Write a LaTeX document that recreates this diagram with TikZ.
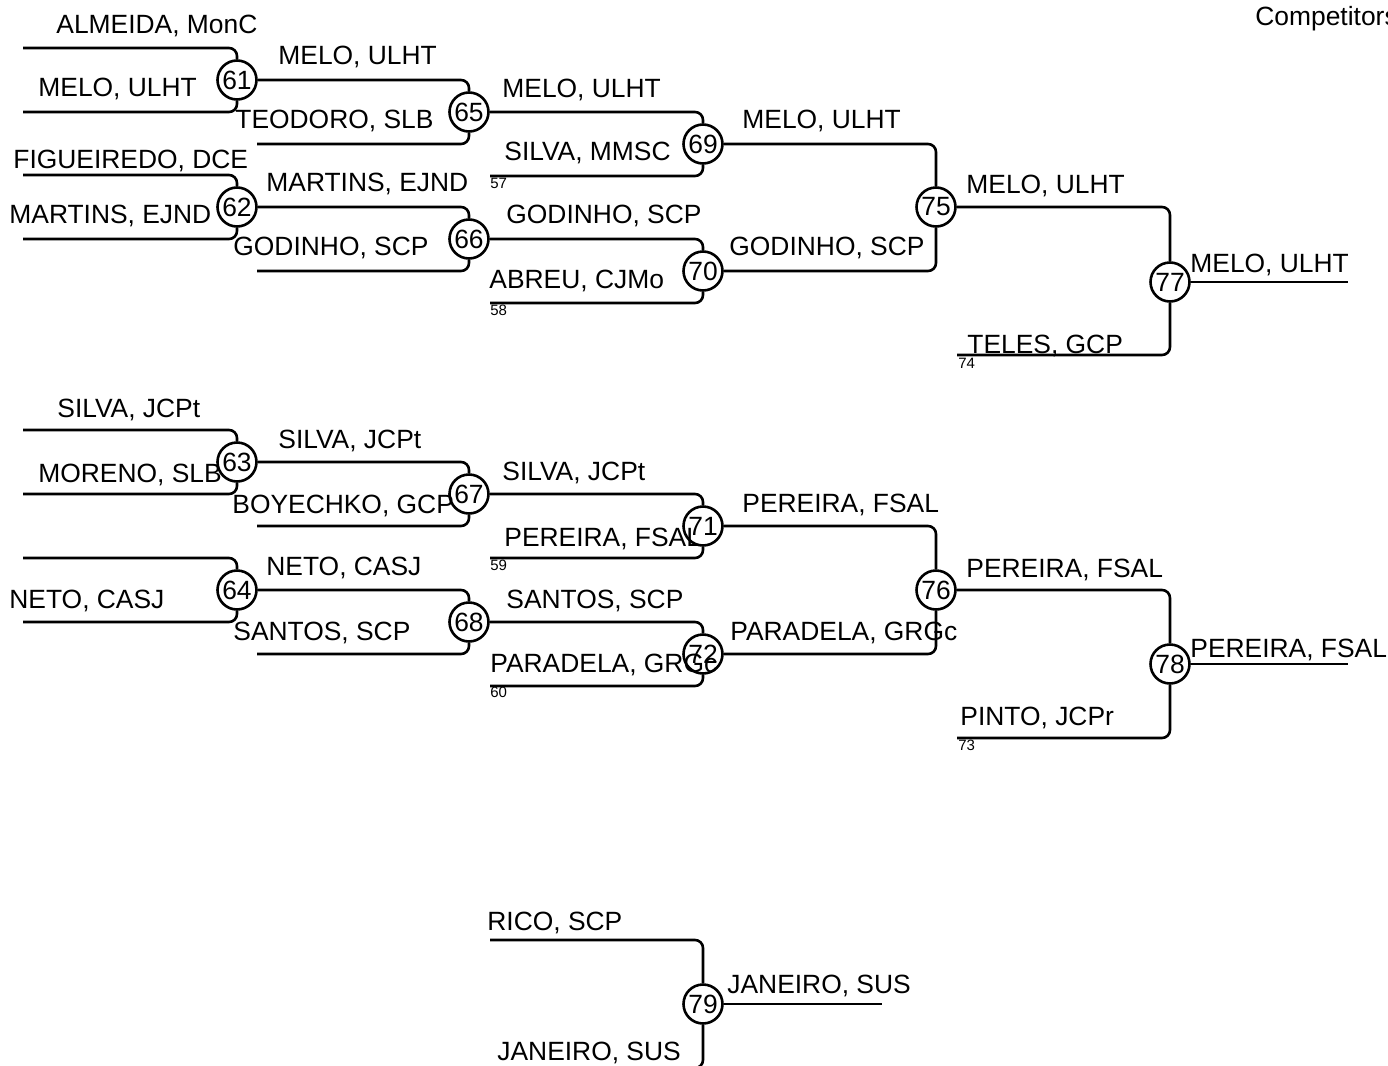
\documentclass[tikz,border=0pt]{standalone}
\usepackage{fontspec}
\setmainfont{Liberation Sans}
\begin{document}
\begin{tikzpicture}[x=0.5pt,y=-0.5pt,
  match/.style={draw,circle,line width=1.3pt,minimum size=19.5pt,inner sep=0pt,font=\fontsize{13.2}{14}\selectfont},
  lab/.style={anchor=base west,inner sep=0pt,font=\fontsize{13.2}{14}\selectfont},
  num/.style={anchor=base west,inner sep=0pt,font=\fontsize{7.5}{8}\selectfont},
  link/.style={line width=1.3pt,rounded corners=4pt}]
\useasboundingbox (0,0) rectangle (1388,1066);
\clip (0,0) rectangle (1388,1066);

% match circles
\node[match] (m61) at (237,80) {61};
\node[match] (m62) at (237,207) {62};
\node[match] (m63) at (237,462) {63};
\node[match] (m64) at (237,590) {64};
\node[match] (m65) at (469,112) {65};
\node[match] (m66) at (469,239) {66};
\node[match] (m67) at (469,494) {67};
\node[match] (m68) at (469,622) {68};
\node[match] (m69) at (703,144) {69};
\node[match] (m70) at (703,271) {70};
\node[match] (m71) at (703,526) {71};
\node[match] (m72) at (703,654) {72};
\node[match] (m75) at (936,207) {75};
\node[match] (m76) at (936,590) {76};
\node[match] (m77) at (1170,282) {77};
\node[match] (m78) at (1170,664) {78};
\node[match] (m79) at (703,1004) {79};

% leaf line starts
\coordinate (s61a) at (23,48);  \coordinate (s61b) at (23,112);
\coordinate (s62a) at (23,175); \coordinate (s62b) at (23,239);
\coordinate (s63a) at (23,430); \coordinate (s63b) at (23,494);
\coordinate (s64a) at (23,558); \coordinate (s64b) at (23,622);
\coordinate (s65b) at (257,144); \coordinate (s66b) at (257,271);
\coordinate (s67b) at (257,526); \coordinate (s68b) at (257,654);
\coordinate (s69b) at (490,176); \coordinate (s70b) at (490,303);
\coordinate (s71b) at (490,558); \coordinate (s72b) at (490,686);
\coordinate (s77b) at (957,355); \coordinate (s78b) at (957,738);
\coordinate (s79a) at (490,940); \coordinate (s79b) at (490,1068);
\coordinate (e77) at (1348,282); \coordinate (e78) at (1348,664);
\coordinate (e79) at (882,1004);

% round 1
\draw[link] (s61a) -| (m61.north); \draw[link] (s61b) -| (m61.south);
\draw[link] (s62a) -| (m62.north); \draw[link] (s62b) -| (m62.south);
\draw[link] (s63a) -| (m63.north); \draw[link] (s63b) -| (m63.south);
\draw[link] (s64a) -| (m64.north); \draw[link] (s64b) -| (m64.south);
% round 2
\draw[link] (m61.east) -| (m65.north); \draw[link] (s65b) -| (m65.south);
\draw[link] (m62.east) -| (m66.north); \draw[link] (s66b) -| (m66.south);
\draw[link] (m63.east) -| (m67.north); \draw[link] (s67b) -| (m67.south);
\draw[link] (m64.east) -| (m68.north); \draw[link] (s68b) -| (m68.south);
% round 3
\draw[link] (m65.east) -| (m69.north); \draw[link] (s69b) -| (m69.south);
\draw[link] (m66.east) -| (m70.north); \draw[link] (s70b) -| (m70.south);
\draw[link] (m67.east) -| (m71.north); \draw[link] (s71b) -| (m71.south);
\draw[link] (m68.east) -| (m72.north); \draw[link] (s72b) -| (m72.south);
% round 4
\draw[link] (m69.east) -| (m75.north); \draw[link] (m70.east) -| (m75.south);
\draw[link] (m71.east) -| (m76.north); \draw[link] (m72.east) -| (m76.south);
% round 5
\draw[link] (m75.east) -| (m77.north); \draw[link] (s77b) -| (m77.south);
\draw[link] (m76.east) -| (m78.north); \draw[link] (s78b) -| (m78.south);
\draw[link] (m77.east) -- (e77);
\draw[link] (m78.east) -- (e78);
% match 79
\draw[link] (s79a) -| (m79.north); \draw[link] (s79b) -| (m79.south);
\draw[link] (m79.east) -- (e79);

% labels top half
\node[lab] (t1) at (56,33) {ALMEIDA, MonC};
\node[lab] (t2) at (38,96) {MELO, ULHT};
\node[lab] (t3) at (13,168) {FIGUEIREDO, DCE};
\node[lab] (t4) at (9,223) {MARTINS, EJND};
\node[lab] (t5) at (278,64) {MELO, ULHT};
\node[lab] (t6) at (235,128) {TEODORO, SLB};
\node[lab] (t7) at (266,191) {MARTINS, EJND};
\node[lab] (t8) at (233,255) {GODINHO, SCP};
\node[lab] (t9) at (502,97) {MELO, ULHT};
\node[lab] (t10) at (504,160) {SILVA, MMSC};
\node[lab] (t11) at (506,223) {GODINHO, SCP};
\node[lab] (t12) at (489,288) {ABREU, CJMo};
\node[lab] (t13) at (742,128) {MELO, ULHT};
\node[lab] (t14) at (729,255) {GODINHO, SCP};
\node[lab] (t15) at (966,193) {MELO, ULHT};
\node[lab] (t16) at (967,353) {TELES, GCP};
\node[lab] (t17) at (1190,272) {MELO, ULHT};
% labels lower half
\node[lab] (u1) at (57,417) {SILVA, JCPt};
\node[lab] (u2) at (38,482) {MORENO, SLB};
\node[lab] (u3) at (9,608) {NETO, CASJ};
\node[lab] (u4) at (278,448) {SILVA, JCPt};
\node[lab] (u5) at (232,513) {BOYECHKO, GCP};
\node[lab] (u6) at (266,575) {NETO, CASJ};
\node[lab] (u7) at (233,640) {SANTOS, SCP};
\node[lab] (u8) at (502,480) {SILVA, JCPt};
\node[lab] (u9) at (504,546) {PEREIRA, FSAL};
\node[lab] (u10) at (506,608) {SANTOS, SCP};
\node[lab] (u11) at (490,672) {PARADELA, GRGc};
\node[lab] (u12) at (742,512) {PEREIRA, FSAL};
\node[lab] (u13) at (730,640) {PARADELA, GRGc};
\node[lab] (u14) at (966,577) {PEREIRA, FSAL};
\node[lab] (u15) at (960,725) {PINTO, JCPr};
\node[lab] (u16) at (1190,657) {PEREIRA, FSAL};
% match 79 labels
\node[lab] (v1) at (487,930) {RICO, SCP};
\node[lab] (v2) at (727,993) {JANEIRO, SUS};
\node[lab] (v3) at (497,1060) {JANEIRO, SUS};
\node[lab] (hdr) at (1255,25) {Competitors};

% small numbers
\node[num] (n57) at (490,188) {57};
\node[num] (n58) at (490,315) {58};
\node[num] (n59) at (490,570) {59};
\node[num] (n60) at (490,697) {60};
\node[num] (n74) at (958,368) {74};
\node[num] (n73) at (958,750) {73};
\end{tikzpicture}
\end{document}
